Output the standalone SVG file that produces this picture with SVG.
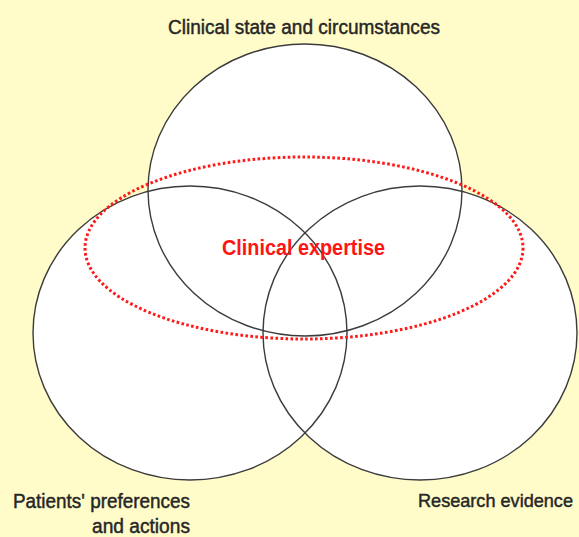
<svg xmlns="http://www.w3.org/2000/svg" width="579" height="537" viewBox="0 0 579 537">
  <style>
    .fill { fill: #ffffff; stroke: none; }
    .ring { fill: none; stroke: #3c3c3c; stroke-width: 1.4; }
    .label { font-family: "Liberation Sans", Arial, sans-serif; font-size: 20px; fill: #262626; stroke: #262626; stroke-width: 0.45; }
    .expert { font-family: "Liberation Sans", Arial, sans-serif; font-size: 22px; font-weight: bold; fill: #ff1414; }
    .dotted { fill: none; stroke: #ff1a1a; stroke-width: 3; stroke-dasharray: 2.6 2.4; }
  </style>
  <rect x="0" y="0" width="579" height="537" fill="#fffcc9"/>
  <g id="fills">
    <ellipse class="fill" cx="305" cy="190" rx="157" ry="146"/>
    <ellipse class="fill" cx="190" cy="333" rx="157" ry="147"/>
    <ellipse class="fill" cx="420" cy="333" rx="157" ry="147"/>
  </g>
  <g id="clinical-state">
    <ellipse class="ring" cx="305" cy="190" rx="157" ry="146"/>
    <text class="label" x="168" y="34" textLength="272" lengthAdjust="spacingAndGlyphs">Clinical state and circumstances</text>
  </g>
  <g id="patients-preferences">
    <ellipse class="ring" cx="190" cy="333" rx="157" ry="147"/>
    <text class="label" x="13" y="508" textLength="177" lengthAdjust="spacingAndGlyphs">Patients' preferences</text>
    <text class="label" x="92" y="533" textLength="98" lengthAdjust="spacingAndGlyphs">and actions</text>
  </g>
  <g id="research-evidence">
    <ellipse class="ring" cx="420" cy="333" rx="157" ry="147"/>
    <text class="label" x="418" y="507" style="font-size:18.5px" textLength="155" lengthAdjust="spacingAndGlyphs">Research evidence</text>
  </g>
  <g id="clinical-expertise">
    <ellipse class="dotted" cx="304" cy="248" rx="219" ry="91"/>
    <text class="expert" x="222" y="255" textLength="163" lengthAdjust="spacingAndGlyphs">Clinical expertise</text>
  </g>
  <g id="connectors"/>
</svg>
